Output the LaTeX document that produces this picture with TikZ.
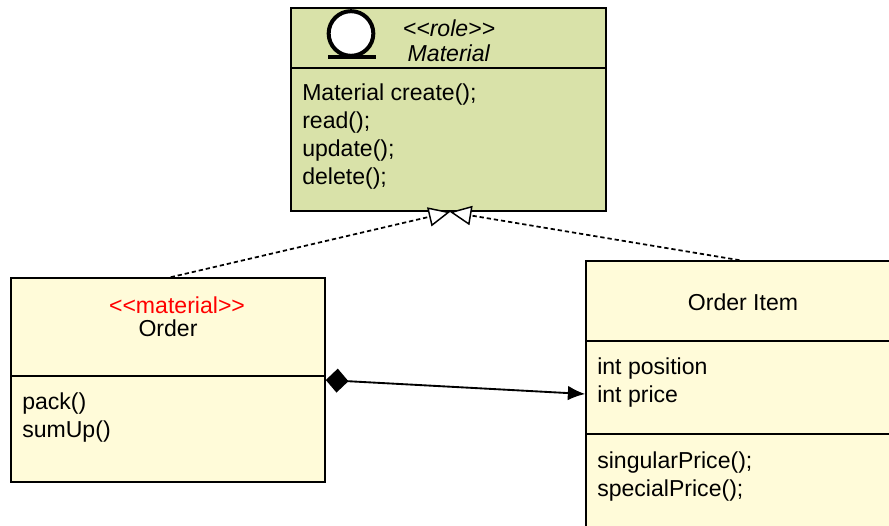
\documentclass[tikz,border=0pt]{standalone}
\usepackage{fontspec}
\setmainfont{Liberation Sans}
\usetikzlibrary{arrows.meta,positioning}
\definecolor{rolegreen}{HTML}{D9E2A9}
\definecolor{classyellow}{HTML}{FFFBD9}
\tikzset{
    classbox/.style={draw, line width=1.2pt, inner sep=0pt, fill=classyellow},
    rolebox/.style={classbox, fill=rolegreen},
    divider/.style={line width=1.2pt},
    label/.style={inner sep=0pt, align=left, font=\fontsize{17.3}{20.8}\selectfont},
    realizes/.style={line width=1.3pt, dash pattern=on 3.2pt off 2.2pt, -{Triangle[open, fill=white, length=16pt, width=14.5pt, line width=1.1pt]}},
    holds/.style={line width=1.4pt, {Diamond[length=17pt, width=18pt]}-{Latex[length=13pt, width=11pt]}}
}
\begin{document}
\begin{tikzpicture}[x=0.75pt, y=-0.75pt]
\clip (0,0) rectangle (889,525);
\useasboundingbox (0,0) rectangle (889,525);
\begin{scope}
    % role
    \node[rolebox, minimum width=236.25pt, minimum height=152.25pt] (material) at (448.5,109.5) {};
    \draw[divider] (291,68) -- (606,68);
    \node[draw, circle, line width=3pt, fill=white, minimum size=33.5pt, inner sep=0pt] (icon) at (351,33.5) {};
    \draw[line width=2.6pt] (328,57) -- (376,57);
    \node[label] (stereo) at (449,28) {\textit{<{}<role>{}>}};
    \node[label] (rolename) at (449,53.5) {\textit{Material}};
    \node[label, anchor=north west] (roleops) at (302,84) {Material create();\\read();\\update();\\delete();};
\end{scope}
\begin{scope}
    % order
    \node[classbox, minimum width=235.5pt, minimum height=153pt] (order) at (168,380) {};
    \draw[divider] (11,376) -- (325,376);
    \node[label, text=red] (orderstereo) at (177,305) {<{}<material>{}>};
    \node[label] (ordername) at (168,328.5) {Order};
    \node[label, anchor=north west] (orderops) at (22,393) {pack()\\sumUp()};
\end{scope}
\begin{scope}
    % order item
    \node[classbox, minimum width=230.25pt, minimum height=202.5pt] (item) at (739.5,396) {};
    \draw[divider] (586,341) -- (893,341);
    \draw[divider] (586,434) -- (893,434);
    \node[label] (itemname) at (743,302.5) {Order Item};
    \node[label, anchor=north west] (itemattrs) at (597,358) {int position\\int price};
    \node[label, anchor=north west] (itemops) at (597,451.5) {singularPrice();\\specialPrice();};
\end{scope}
\coordinate (tip) at (450,212);
\draw[realizes] ([xshift=2pt]order.north) -- (tip);
\draw[realizes] (item.north) -- (tip);
\draw[holds] (order.east |- 0,380) -- (item.west |- 0,394);
\end{tikzpicture}
\end{document}
